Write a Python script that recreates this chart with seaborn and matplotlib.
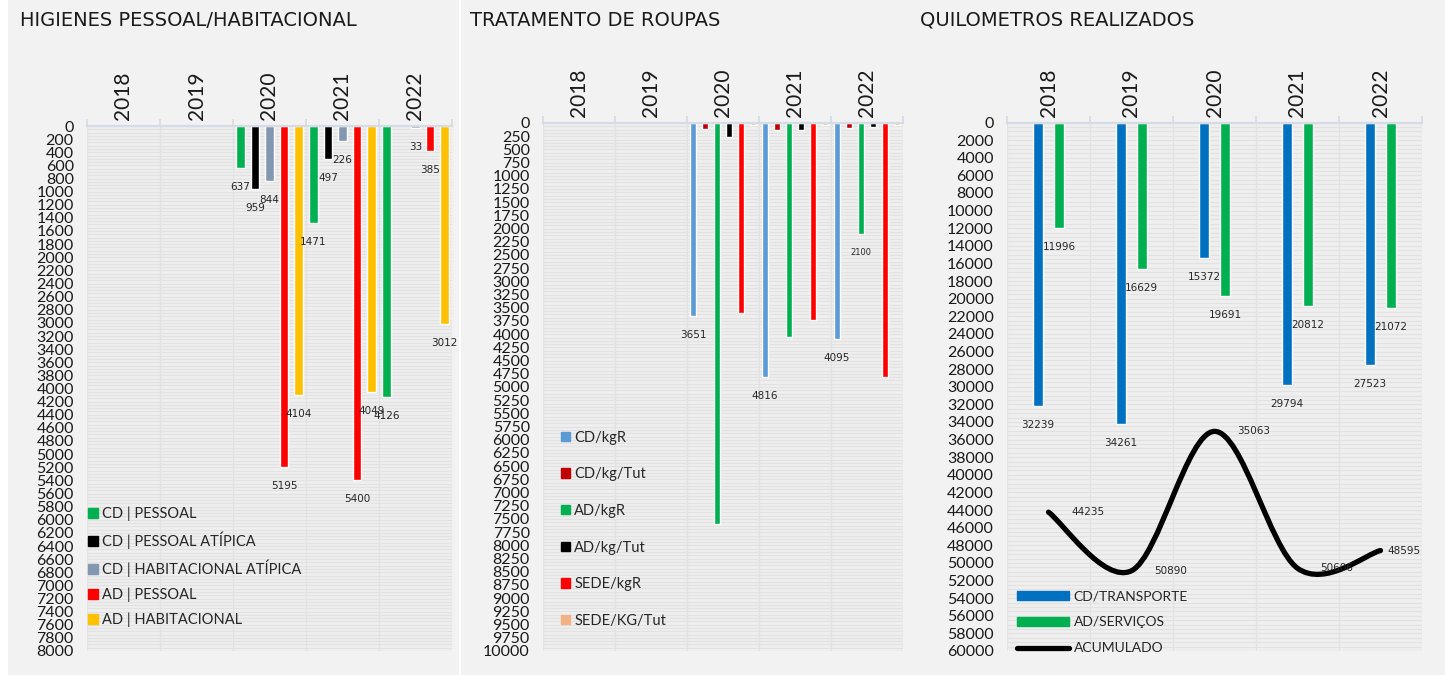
import numpy as np
import pandas as pd
import matplotlib
matplotlib.use("Agg")
import matplotlib.pyplot as plt
import seaborn as sns
from matplotlib.patches import Patch, Rectangle, PathPatch
from matplotlib.lines import Line2D
from matplotlib.path import Path
from matplotlib.ticker import MultipleLocator, FixedLocator

sns.set_style("white")
plt.rcParams['font.family'] = ['Lato', 'DejaVu Sans']

# ---------------- DATA ----------------
years = ["2018", "2019", "2020", "2021", "2022"]

# Panel 1: HIGIENES PESSOAL/HABITACIONAL
hig_series = ["CD | PESSOAL", "CD | PESSOAL ATÍPICA", "CD | HABITACIONAL ATÍPICA",
              "AD | PESSOAL", "AD | HABITACIONAL"]
hig_cd_pessoal = [np.nan, np.nan, 637, 1471, 4126]
hig_cd_pessoal_atip = [np.nan, np.nan, 959, 497, np.nan]
hig_cd_hab_atip = [np.nan, np.nan, 844, 226, 33]
hig_ad_pessoal = [np.nan, np.nan, 5195, 5400, 385]
hig_ad_hab = [np.nan, np.nan, 4104, 4049, 3012]
hig_colors = ["#00B050", "#000000", "#8497B0", "#FF0000", "#FFC000"]

# Panel 2: TRATAMENTO DE ROUPAS
rou_series = ["CD/kgR", "CD/kg/Tut", "AD/kgR", "AD/kg/Tut", "SEDE/kgR", "SEDE/KG/Tut"]
rou_cd_kgr = [np.nan, np.nan, 3651, 4816, 4095]
rou_cd_kgtut = [np.nan, np.nan, 115, 140, 100]
rou_ad_kgr = [np.nan, np.nan, 7600, 4058, 2100]
rou_ad_kgtut = [np.nan, np.nan, 265, 140, 70]
rou_sede_kgr = [np.nan, np.nan, 3604, 3731, 4818]
rou_sede_kgtut = [np.nan, np.nan, 38, 38, 38]
rou_colors = ["#5B9BD5", "#C00000", "#00B050", "#000000", "#FF0000", "#F4B183"]
# visible data labels (empty = no label)
rou_labels_cd_kgr = ["", "", "3651", "4816", "4095"]
rou_labels_ad_kgr = ["", "", "", "", "2100"]

# Panel 3: QUILOMETROS REALIZADOS
km_series = ["CD/TRANSPORTE", "AD/SERVIÇOS"]
km_cd = [32239, 34261, 15372, 29794, 27523]
km_ad = [11996, 16629, 19691, 20812, 21072]
km_acum = [44235, 50890, 35063, 50606, 48595]
km_colors = ["#0070C0", "#00B050"]

titles = ["HIGIENES PESSOAL/HABITACIONAL", "TRATAMENTO DE ROUPAS", "QUILOMETROS REALIZADOS"]

# ---------------- FIGURE ----------------
W, H = 1445, 675
fig = plt.figure(figsize=(W / 100, H / 100), dpi=100, facecolor="white")
PANEL = "#f2f2f2"
fig.patches.append(Rectangle((8 / W, 0), (459 - 8) / W, 1, transform=fig.transFigure,
                             facecolor=PANEL, edgecolor="none", zorder=-10))
fig.patches.append(Rectangle((461 / W, 0), (W - 461) / W, 1, transform=fig.transFigure,
                             facecolor=PANEL, edgecolor="none", zorder=-10))


def make_ax(l, t, r, b):
    return fig.add_axes([l / W, 1 - b / H, (r - l) / W, (b - t) / H])


ax1 = make_ax(87, 126, 452, 651)
ax2 = make_ax(543, 123, 903, 651)
ax3 = make_ax(1007, 122.5, 1422, 651)

for x, t in zip([20, 470, 920], titles):
    fig.text(x / W, 1 - 20 / H, t, fontsize=14, family="DejaVu Sans", color="#1a1a1a",
             ha="left", va="center")


def long_df(series, arrays):
    rows = []
    for s, arr in zip(series, arrays):
        for y, v in zip(years, arr):
            if not np.isnan(v):
                rows.append({"year": y, "series": s, "value": v})
    return pd.DataFrame(rows)


def style_ax(ax, ymax, ystep, minor):
    ax.set_facecolor("#efefef")
    ax.set_ylim(ymax, 0)
    ax.set_xlim(-0.5, len(years) - 0.5)
    ax.set_yticks(np.arange(0, ymax + 1, ystep))
    ax.set_yticklabels([str(int(v)) for v in np.arange(0, ymax + 1, ystep)])
    ax.yaxis.set_minor_locator(MultipleLocator(minor))
    ax.xaxis.tick_top()
    ax.set_xticks(range(len(years)))
    ax.set_xticklabels(years, rotation=90, fontsize=15, color="#1a1a1a", va="bottom")
    ax.xaxis.set_minor_locator(FixedLocator(np.arange(-0.5, len(years), 1.0)))
    ax.tick_params(axis="x", which="major", length=0, pad=4, top=True, bottom=False,
                   labeltop=True, labelbottom=False)
    ax.tick_params(axis="x", which="minor", length=5, width=1.2, color="#d6dce5",
                   top=True, bottom=False)
    ax.tick_params(axis="y", which="both", length=0, pad=9.5, labelsize=11.5,
                   labelcolor="#1a1a1a")
    ax.grid(axis="y", which="both", color="#e2e2e2", lw=0.9)
    ax.grid(axis="x", which="minor", color="#e2e2e2", lw=0.9)
    ax.set_axisbelow(True)
    for s in ["left", "right", "bottom"]:
        ax.spines[s].set_visible(False)
    ax.spines["top"].set_color("#d6dce5")
    ax.spines["top"].set_linewidth(1.6)
    ax.set_xlabel("")
    ax.set_ylabel("")


def offsets(n, width):
    return [(k + 0.5) / n * width - width / 2 for k in range(n)]


LBL = dict(fontsize=7.5, family="DejaVu Sans", color="#262626", ha="center", va="center")

# ---------------- PANEL 1 ----------------
hig_arrays = [hig_cd_pessoal, hig_cd_pessoal_atip, hig_cd_hab_atip, hig_ad_pessoal, hig_ad_hab]
df1 = long_df(hig_series, hig_arrays)
sns.barplot(data=df1, x="year", y="value", hue="series", order=years, hue_order=hig_series,
            palette=hig_colors, width=1.0, gap=0.42, dodge=True, ax=ax1, legend=False,
            saturation=1, errorbar=None)
style_ax(ax1, 8000, 200, 50)
off1 = offsets(len(hig_series), 1.0)
for k, arr in enumerate(hig_arrays):
    for i, v in enumerate(arr):
        if not np.isnan(v):
            ax1.annotate(f"{int(v)}", (i + off1[k], v), xytext=(0, -13.7),
                         textcoords="offset points", **LBL)
ax1.legend(handles=[Patch(color=c, label=s) for s, c in zip(hig_series, hig_colors)],
           loc="upper left", bbox_to_anchor=(0.0, 0.278), frameon=False, fontsize=10.5,
           handlelength=0.62, handleheight=0.62, handletextpad=0.3, labelspacing=0.72,
           borderpad=0.1, borderaxespad=0)

# ---------------- PANEL 2 ----------------
rou_arrays = [rou_cd_kgr, rou_cd_kgtut, rou_ad_kgr, rou_ad_kgtut, rou_sede_kgr, rou_sede_kgtut]
df2 = long_df(rou_series, rou_arrays)
sns.barplot(data=df2, x="year", y="value", hue="series", order=years, hue_order=rou_series,
            palette=rou_colors, width=1.0, gap=0.49, dodge=True, ax=ax2, legend=False,
            saturation=1, errorbar=None)
style_ax(ax2, 10000, 250, 62.5)
off2 = offsets(len(rou_series), 1.0)
for k, labs, fs in [(0, rou_labels_cd_kgr, 7.5), (2, rou_labels_ad_kgr, 6)]:
    arr = rou_arrays[k]
    for i, t in enumerate(labs):
        if t:
            d = dict(LBL)
            d["fontsize"] = fs
            ax2.annotate(t, (i + off2[k], arr[i]), xytext=(0, -13.7),
                         textcoords="offset points", **d)
ax2.legend(handles=[Patch(color=c, label=s) for s, c in zip(rou_series, rou_colors)],
           loc="upper left", bbox_to_anchor=(0.045, 0.42), frameon=False, fontsize=10.5,
           handlelength=0.62, handleheight=0.62, handletextpad=0.3, labelspacing=1.55,
           borderpad=0.1, borderaxespad=0)

# ---------------- PANEL 3 ----------------
km_arrays = [km_cd, km_ad]
df3 = long_df(km_series, km_arrays)
sns.barplot(data=df3, x="year", y="value", hue="series", order=years, hue_order=km_series,
            palette=km_colors, width=0.5, gap=0.52, dodge=True, ax=ax3, legend=False,
            saturation=1, errorbar=None)
style_ax(ax3, 60000, 2000, 500)
off3 = offsets(len(km_series), 0.5)
for k, arr in enumerate(km_arrays):
    for i, v in enumerate(arr):
        ax3.annotate(f"{int(v)}", (i + off3[k], v), xytext=(0, -13.7),
                     textcoords="offset points", **LBL)

# smoothed line (Excel-style Catmull-Rom -> cubic Bezier)
xs = np.arange(len(km_acum), dtype=float)
ys = np.array(km_acum, dtype=float)
verts = [(xs[0], ys[0])]
codes = [Path.MOVETO]
n = len(xs)
for i in range(n - 1):
    p0 = np.array([xs[max(i - 1, 0)], ys[max(i - 1, 0)]])
    p1 = np.array([xs[i], ys[i]])
    p2 = np.array([xs[i + 1], ys[i + 1]])
    p3 = np.array([xs[min(i + 2, n - 1)], ys[min(i + 2, n - 1)]])
    c1 = p1 + (p2 - p0) / 6
    c2 = p2 - (p3 - p1) / 6
    verts += [tuple(c1), tuple(c2), tuple(p2)]
    codes += [Path.CURVE4] * 3
ax3.add_patch(PathPatch(Path(verts, codes), facecolor="none", edgecolor="black",
                        lw=3.8, capstyle="round", joinstyle="round", zorder=4))
for i, v in enumerate(km_acum):
    dx = 16.5 if i < n - 1 else 5
    ax3.annotate(f"{int(v)}", (xs[i], v), xytext=(dx, 0), textcoords="offset points",
                 fontsize=7.5, family="DejaVu Sans", color="#262626", ha="left", va="center",
                 zorder=5)
ax3.legend(handles=[Patch(color=km_colors[0], label=km_series[0]),
                    Patch(color=km_colors[1], label=km_series[1]),
                    Line2D([], [], color="black", lw=3.8, solid_capstyle="round",
                           label="ACUMULADO")],
           loc="upper left", bbox_to_anchor=(0.02, 0.118), frameon=False, fontsize=10,
           handlelength=3.8, handleheight=0.6, handletextpad=0.3, labelspacing=1.02,
           borderpad=0.1, borderaxespad=0)

fig.savefig("out.png", dpi=100, facecolor=fig.get_facecolor())
